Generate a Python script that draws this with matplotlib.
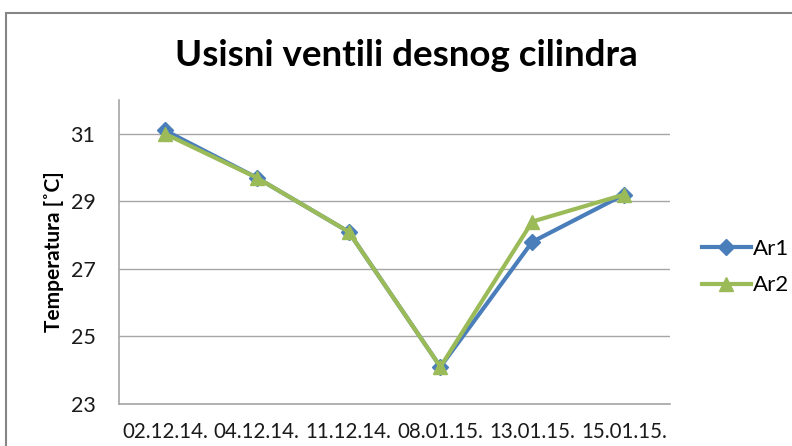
import matplotlib
matplotlib.use("Agg")
import matplotlib.pyplot as plt
from matplotlib.patches import Rectangle

dates = ["02.12.14.", "04.12.14.", "11.12.14.", "08.01.15.", "13.01.15.", "15.01.15."]
ar1 = [31.1, 29.7, 28.1, 24.1, 27.8, 29.2]
ar2 = [31.0, 29.7, 28.1, 24.1, 28.4, 29.2]

plt.rcParams["font.family"] = ["Lato", "DejaVu Sans"]
COL_AR1 = "#4a7ebb"
COL_AR2 = "#9bbb59"

fig = plt.figure(figsize=(7.92, 4.46), dpi=100)
fig.patch.set_facecolor("white")
# chart frame (cropped at the right and bottom)
fig.patches.append(Rectangle((6 / 792, -0.05), 1.2, 0.971 + 0.05, transform=fig.transFigure,
                             fill=False, edgecolor="#868686", linewidth=1.5))

ax = fig.add_axes([119 / 792, 1 - 404 / 446, 551 / 792, 304 / 446])
x = range(len(dates))
ax.plot(x, ar1, color=COL_AR1, lw=3, marker="D", ms=8, label="Ar1", zorder=3)
ax.plot(x, ar2, color=COL_AR2, lw=3, marker="^", ms=10, label="Ar2", zorder=4)

ax.set_xlim(-0.5, len(dates) - 0.5)
ax.set_ylim(23, 32)
ax.set_yticks([23, 25, 27, 29, 31])
ax.set_xticks(list(x))
ax.set_xticklabels(dates)
ax.grid(axis="y", color="#a6a6a6", lw=1)
ax.set_axisbelow(True)
for s in ("top", "right"):
    ax.spines[s].set_visible(False)
for s in ("left", "bottom"):
    ax.spines[s].set_color("#a6a6a6")
    ax.spines[s].set_linewidth(1.2)
ax.tick_params(axis="both", length=0, colors="#1a1a1a")
ax.tick_params(axis="x", labelsize=14.8, pad=13)
ax.tick_params(axis="y", labelsize=15.5, pad=17)
ax.set_ylabel("Temperatura [˚C]", fontsize=15, fontweight="bold")
ax.yaxis.set_label_coords(-(119 - 64) / 551, 0.5)

fig.text(406 / 792, 1 - 55 / 446, "Usisni ventili desnog cilindra", ha="center", va="center",
         fontsize=26.5, fontweight="bold")
fig.legend(loc="center left", bbox_to_anchor=(702 / 792, 1 - 267 / 446), frameon=False,
           fontsize=16, handlelength=2.2, handletextpad=0.1, labelspacing=0.75,
           borderaxespad=0, borderpad=0)

fig.savefig("out.png", dpi=100, facecolor="white")
